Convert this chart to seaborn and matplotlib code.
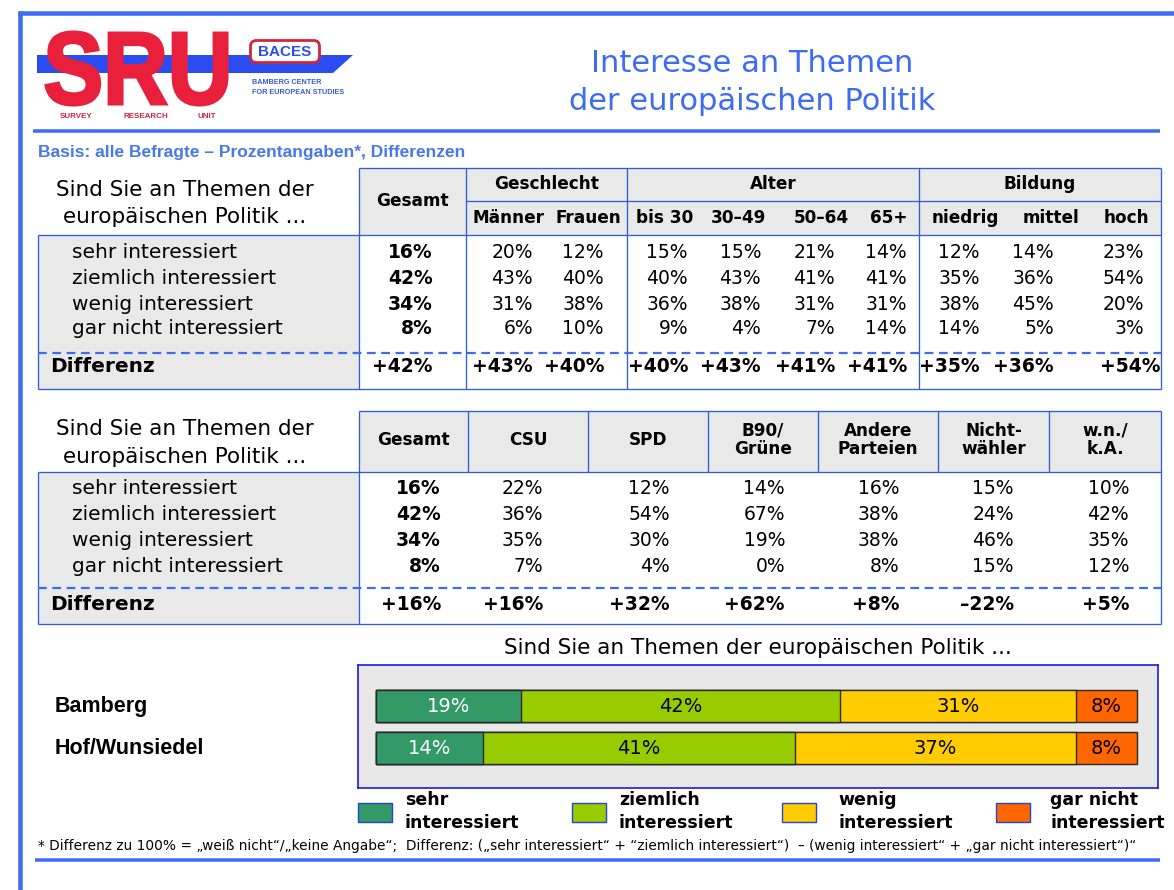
import numpy as np
import pandas as pd
import matplotlib
matplotlib.use("Agg")
import matplotlib.pyplot as plt
import seaborn as sns
from matplotlib.patches import Rectangle, Polygon, FancyBboxPatch, PathPatch
from matplotlib.textpath import TextPath
from matplotlib.font_manager import FontProperties
from matplotlib.transforms import Affine2D, blended_transform_factory

sns.set_style("white")
plt.rcParams['font.family'] = ['DejaVu Sans']
plt.rcParams['text.color'] = 'black'

# ---------------- data ----------------
title_lines = ["Interesse an Themen", "der europäischen Politik"]
basis_text = "Basis: alle Befragte – Prozentangaben*, Differenzen"
question = "Sind Sie an Themen der\neuropäischen Politik ..."
bar_title = "Sind Sie an Themen der europäischen Politik ..."
answer_labels = ["sehr interessiert", "ziemlich interessiert",
                 "wenig interessiert", "gar nicht interessiert"]
diff_label = "Differenz"

# table 1
t1_groups = ["Geschlecht", "Alter", "Bildung"]
t1_group_sizes = [2, 4, 3]
t1_columns = ["Gesamt", "Männer", "Frauen", "bis 30", "30–49", "50–64", "65+",
              "niedrig", "mittel", "hoch"]
t1_gesamt = [16, 42, 34, 8]
t1_maenner = [20, 43, 31, 6]
t1_frauen = [12, 40, 38, 10]
t1_bis30 = [15, 40, 36, 9]
t1_30_49 = [15, 43, 38, 4]
t1_50_64 = [21, 41, 31, 7]
t1_65plus = [14, 41, 31, 14]
t1_niedrig = [12, 35, 38, 14]
t1_mittel = [14, 36, 45, 5]
t1_hoch = [23, 54, 20, 3]
t1_diff = ["+42%", "+43%", "+40%", "+40%", "+43%", "+41%", "+41%", "+35%", "+36%", "+54%"]

# table 2
t2_columns = ["Gesamt", "CSU", "SPD", "B90/\nGrüne", "Andere\nParteien", "Nicht-\nwähler", "w.n./\nk.A."]
t2_gesamt = [16, 42, 34, 8]
t2_csu = [22, 36, 35, 7]
t2_spd = [12, 54, 30, 4]
t2_gruene = [14, 67, 19, 0]
t2_andere = [16, 38, 38, 8]
t2_nichtwaehler = [15, 24, 46, 15]
t2_wnka = [10, 42, 35, 12]
t2_diff = ["+16%", "+16%", "+32%", "+62%", "+8%", "–22%", "+5%"]

# stacked bars
regions = ["Bamberg", "Hof/Wunsiedel"]
sehr = [19, 14]
ziemlich = [42, 41]
wenig = [31, 37]
gar_nicht = [8, 8]
legend_labels = ["sehr\ninteressiert", "ziemlich\ninteressiert", "wenig\ninteressiert", "gar nicht\ninteressiert"]
seg_colors = ["#339966", "#99CC00", "#FFCC00", "#FF6600"]

footnote = ("* Differenz zu 100% = „weiß nicht“/„keine Angabe“;  Differenz: („sehr interessiert“ + "
            "“ziemlich interessiert“)  – (wenig interessiert“ + „gar nicht interessiert“)“")

# ---------------- figure ----------------
W, H = 1174, 890
fig = plt.figure(figsize=(W / 100, H / 100), dpi=100)
fig.patch.set_facecolor("white")
bg = fig.add_axes([0, 0, 1, 1])
bg.set_xlim(0, W)
bg.set_ylim(H, 0)
bg.axis("off")

PX = 0.72  # points per pixel
BLUE = "#3D6CF4"
TBLUE = "#2F5BE0"
GRAY = "#E9E9E9"


def hline(y, x0, x1, color=TBLUE, lw=1.3, ls="-", z=3):
    bg.plot([x0, x1], [y, y], color=color, lw=lw * PX * 1.0, ls=ls, zorder=z, solid_capstyle="butt")


def vline(x, y0, y1, color=TBLUE, lw=1.3, z=3):
    bg.plot([x, x], [y0, y1], color=color, lw=lw * PX, zorder=z, solid_capstyle="butt")


# outer frame
hline(13, 18, W, color=BLUE, lw=4.5)
vline(20, 11, H, color=BLUE, lw=4.5)
hline(131, 33, 1160, color=BLUE, lw=3.5)
hline(860, 35, 1160, color=BLUE, lw=3.5)

# ---------------- logo ----------------
bg.add_patch(Polygon([(37, 55), (353, 55), (333, 73), (37, 73)], closed=True,
                     facecolor="#2B4CF2", edgecolor="none", zorder=2))
tp = TextPath((0, 0), "SRU", size=100, prop=FontProperties(family="Liberation Sans", weight="bold"))
bb = tp.get_extents()
sx = (227 - 46) / bb.width
sy = (105 - 32) / bb.height
tr = Affine2D().translate(-bb.x0, -bb.y0).scale(sx, -sy).translate(46, 105) + bg.transData
bg.add_patch(PathPatch(tp, facecolor="#E8203B", edgecolor="#E8203B", lw=2.2, transform=tr, zorder=3))
bg.add_patch(FancyBboxPatch((252, 42), 66, 19, boxstyle="round,pad=1.5,rounding_size=6",
                            facecolor="white", edgecolor="#D0263C", lw=2.0, zorder=4))
bg.text(285, 52, "BACES", color="#2B4CF2", fontsize=11, fontweight="bold",
        family="Liberation Sans", ha="center", va="center", zorder=5)
bg.text(252, 83, "BAMBERG CENTER", color="#3A5BD8", fontsize=5.2, fontweight="bold",
        family="Liberation Sans", ha="left", va="center", zorder=5)
bg.text(252, 92, "FOR EUROPEAN STUDIES", color="#3A5BD8", fontsize=5.2, fontweight="bold",
        family="Liberation Sans", ha="left", va="center", zorder=5)
for lbl, xx in zip(["SURVEY", "RESEARCH", "UNIT"], [60, 123, 197]):
    bg.text(xx, 116, lbl, color="#D0263C", fontsize=5.8, fontweight="bold",
            family="Liberation Sans", ha="left", va="center", zorder=5)

# ---------------- titles ----------------
bg.text(752, 63, title_lines[0], color=BLUE, fontsize=22, ha="center", va="center")
bg.text(752, 102, title_lines[1], color=BLUE, fontsize=22, ha="center", va="center")
bg.text(38, 152, basis_text, color="#4A78E8", fontsize=12.5, fontweight="bold",
        family="Liberation Sans", ha="left", va="center")

VAL_FS = 13.5
HDR_FS = 12.2
LAB_FS = 14.5


def draw_row_labels(rows_y, diff_y, q_y, top_hdr, hdr_bot, dash_y, bot):
    qlines = question.split("\n")
    for line, yy in zip(qlines, q_y):
        bg.text(185, yy, line, fontsize=15.5, ha="center", va="center", color="black")
    bg.add_patch(Rectangle((38, hdr_bot), 360 - 38, bot - hdr_bot, facecolor=GRAY,
                           edgecolor="none", zorder=1))
    for lab, yy in zip(answer_labels, rows_y):
        bg.text(72, yy, lab, fontsize=LAB_FS, ha="left", va="center", color="black", zorder=4)
    bg.text(50, diff_y, diff_label, fontsize=LAB_FS, fontweight="bold", ha="left",
            va="center", color="black", zorder=4)


# ---------------- table 1 ----------------
t1_top, t1_mid, t1_hdr, t1_dash, t1_bot = 168, 201, 235, 353, 389
t1_bounds = [359, 466, 627, 919, 1161]
t1_rows_y = [253, 278, 304, 329]
t1_diff_y = 367
t1_sub_x = [412, 508, 588, 665, 738, 821, 889, 965, 1051, 1126]
t1_right = [433, 533, 604, 688, 761, 835, 907, 980, 1054, 1144]
t1_diff_right = t1_right[:-1] + [1161]
t1_data = [t1_gesamt, t1_maenner, t1_frauen, t1_bis30, t1_30_49, t1_50_64, t1_65plus,
           t1_niedrig, t1_mittel, t1_hoch]

draw_row_labels(t1_rows_y, t1_diff_y, [190, 217], t1_top, t1_hdr, t1_dash, t1_bot)
bg.add_patch(Rectangle((t1_bounds[0], t1_top), t1_bounds[-1] - t1_bounds[0], t1_hdr - t1_top,
                       facecolor=GRAY, edgecolor="none", zorder=1))
hline(t1_top, t1_bounds[0], t1_bounds[-1])
hline(t1_mid, t1_bounds[1], t1_bounds[-1])
hline(t1_hdr, 38, t1_bounds[-1])
hline(t1_bot, 38, t1_bounds[-1])
vline(38, t1_hdr, t1_bot)
for xb in t1_bounds:
    vline(xb, t1_top, t1_bot)
hline(t1_dash, 38, t1_bounds[-1], color="#3D6CF4", lw=2.2, ls=(0, (4, 2.5)), z=4)

bg.text(t1_sub_x[0], (t1_top + t1_hdr) / 2, t1_columns[0], fontsize=HDR_FS, fontweight="bold",
        ha="center", va="center")
for g, (a, b) in zip(t1_groups, zip(t1_bounds[1:-1], t1_bounds[2:])):
    bg.text((a + b) / 2, 184, g, fontsize=HDR_FS, fontweight="bold", ha="center", va="center")
for lab, xx in zip(t1_columns[1:], t1_sub_x[1:]):
    bg.text(xx, 218, lab, fontsize=HDR_FS, fontweight="bold", ha="center", va="center")
for ci, col in enumerate(t1_data):
    for v, yy in zip(col, t1_rows_y):
        bg.text(t1_right[ci], yy, f"{v}%", fontsize=VAL_FS, ha="right", va="center",
                fontweight="bold" if ci == 0 else "normal", zorder=4)
    bg.text(t1_diff_right[ci], t1_diff_y, t1_diff[ci], fontsize=VAL_FS, ha="right",
            va="center", fontweight="bold", zorder=4)

# ---------------- table 2 ----------------
t2_top, t2_hdr, t2_dash, t2_bot = 411, 472, 588, 624
t2_bounds = [359, 468, 588, 708, 818, 938, 1049, 1161]
t2_rows_y = [489, 514, 540, 566]
t2_diff_y = 605
t2_right = [441, 543, 670, 785, 899, 1014, 1129]
t2_data = [t2_gesamt, t2_csu, t2_spd, t2_gruene, t2_andere, t2_nichtwaehler, t2_wnka]

draw_row_labels(t2_rows_y, t2_diff_y, [429, 457], t2_top, t2_hdr, t2_dash, t2_bot)
bg.add_patch(Rectangle((t2_bounds[0], t2_top), t2_bounds[-1] - t2_bounds[0], t2_hdr - t2_top,
                       facecolor=GRAY, edgecolor="none", zorder=1))
hline(t2_top, t2_bounds[0], t2_bounds[-1])
hline(t2_hdr, 38, t2_bounds[-1])
hline(t2_bot, 38, t2_bounds[-1])
vline(38, t2_hdr, t2_bot)
for xb in t2_bounds:
    vline(xb, t2_top, t2_hdr if xb not in (t2_bounds[0], t2_bounds[-1]) else t2_bot)
hline(t2_dash, 38, t2_bounds[-1], color="#3D6CF4", lw=2.2, ls=(0, (4, 2.5)), z=4)
for lab, (a, b) in zip(t2_columns, zip(t2_bounds[:-1], t2_bounds[1:])):
    bg.text((a + b) / 2, 440, lab, fontsize=HDR_FS, fontweight="bold", ha="center",
            va="center", linespacing=1.05)
for ci, col in enumerate(t2_data):
    for v, yy in zip(col, t2_rows_y):
        bg.text(t2_right[ci], yy, f"{v}%", fontsize=VAL_FS, ha="right", va="center",
                fontweight="bold" if ci == 0 else "normal", zorder=4)
    bg.text(t2_right[ci], t2_diff_y, t2_diff[ci], fontsize=VAL_FS, ha="right",
            va="center", fontweight="bold", zorder=4)

# ---------------- stacked bar chart ----------------
bg.text(758, 648, bar_title, fontsize=15.5, ha="center", va="center", color="black")

px0, px1, py0, py1 = 358, 1158, 665, 788
axb = fig.add_axes([px0 / W, 1 - py1 / H, (px1 - px0) / W, (py1 - py0) / H])

segments = [sehr, ziemlich, wenig, gar_nicht]
df = pd.DataFrame({"region": regions, **{lab: seg for lab, seg in zip(answer_labels, segments)}})
cum = df[answer_labels].cumsum(axis=1)
for i in range(len(answer_labels) - 1, -1, -1):
    sns.barplot(data=cum.assign(region=df["region"]), x=answer_labels[i], y="region",
                orient="h", color=seg_colors[i], saturation=1, width=0.76,
                edgecolor="#2a2a2a", linewidth=1.0, ax=axb)

for r in range(len(regions)):
    for i, lab in enumerate(answer_labels):
        v = df.loc[r, lab]
        mid = cum.loc[r, lab] - v / 2
        axb.text(mid, r, f"{v}%", ha="center", va="center", fontsize=14,
                 color="white" if i == 0 else "black", zorder=5)

unit = (1137 - 376) / 100.0
axb.set_xlim(-(376 - px0) / unit, 100 + (px1 - 1137) / unit)
axb.set_ylim(1 + (py1 - 748) / 42.0, -(706 - py0) / 42.0)
axb.set_facecolor("#E8E8E8")
axb.set_xlabel("")
axb.set_ylabel("")
axb.set_xticks([])
axb.set_yticks([])
for s in axb.spines.values():
    s.set_visible(True)
    s.set_color("#1A1AF0")
    s.set_linewidth(1.2)

# region labels
btr = blended_transform_factory(bg.transData, axb.transData)
for r, name in enumerate(regions):
    bg.text(55, r + 0.02, name, transform=btr, fontsize=15.5, fontweight="bold",
            family="Liberation Sans", ha="left", va="center", color="black")

# legend
leg_box_x = [358, 572, 782, 996]
leg_text_x = [405, 619, 838, 1050]
for c, bx, tx, lab in zip(seg_colors, leg_box_x, leg_text_x, legend_labels):
    bg.add_patch(Rectangle((bx, 803), 34, 19, facecolor=c, edgecolor="#2244DD", lw=1.0, zorder=3))
    l1, l2 = lab.split("\n")
    bg.text(tx, 800, l1, fontsize=12.5, fontweight="bold", ha="left", va="center", color="black")
    bg.text(tx, 823, l2, fontsize=12.5, fontweight="bold", ha="left", va="center", color="black")

bg.text(38, 846, footnote, fontsize=9.9, ha="left", va="center", color="black")

fig.savefig("out.png", dpi=100)
